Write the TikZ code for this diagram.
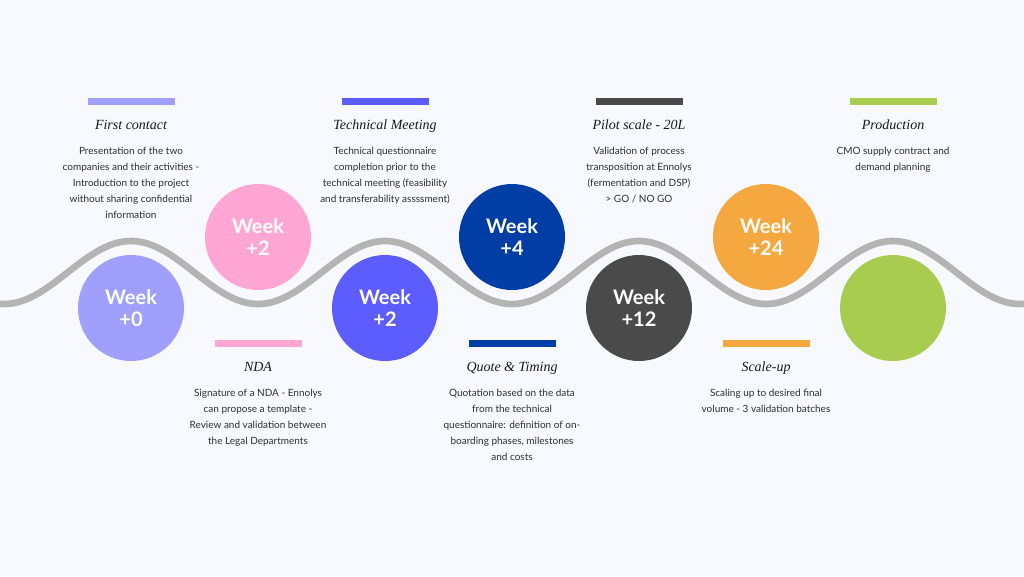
\documentclass[tikz,border=0pt]{standalone}
\usepackage{fontspec}
\setmainfont{Lato}
\newfontfamily\titlefont{Liberation Serif}
\usepackage{xcolor}
\usetikzlibrary{positioning}

\definecolor{bgcol}{HTML}{F8F9FE}
\definecolor{lavender}{HTML}{A0A0FC}
\definecolor{pinkc}{HTML}{FFA6D5}
\definecolor{violetc}{HTML}{5C5CFF}
\definecolor{navyc}{HTML}{003DA5}
\definecolor{darkc}{HTML}{4A4A4A}
\definecolor{orangec}{HTML}{F5A840}
\definecolor{greenc}{HTML}{A8CC4F}
\definecolor{wavec}{HTML}{B4B4B4}
\definecolor{textc}{HTML}{2E2E2E}

\begin{document}
\begin{tikzpicture}[x=0.75pt, y=-0.75pt,
  week/.style={circle, minimum size=79.5pt, inner sep=0pt, align=center, text=white, font=\fontsize{15}{17}\selectfont\bfseries},
  phasebar/.style={rectangle, minimum width=65.25pt, minimum height=5.25pt, inner sep=0pt},
  phasetitle/.style={font=\titlefont\itshape\fontsize{10.5}{12}\selectfont, text=black!90, inner sep=0pt, text height=8pt, text depth=2pt},
  phasetext/.style={font=\fontsize{7.5}{12}\selectfont, text=textc, align=center, inner sep=0pt}]

\useasboundingbox[fill=bgcol] (0,0) rectangle (1024,576);

% Timeline wave
\draw[wavec, line width=5pt] plot[domain=-5:1029, samples=300, smooth] (\x, {272.5-31.5*cos((\x-131)*1.417323)});

% Week circles
\node[week, fill=lavender] (week0) at (131,308) {Week\\+0};
\node[week, fill=pinkc] (week2a) at (258,237) {Week\\+2};
\node[week, fill=violetc] (week2b) at (385,308) {Week\\+2};
\node[week, fill=navyc] (week4) at (512,237) {Week\\+4};
\node[week, fill=darkc] (week12) at (639,308) {Week\\+12};
\node[week, fill=orangec] (week24) at (766,237) {Week\\+24};
\node[week, fill=greenc] (prod) at (893,308) {};

% Upper phases
\node[phasebar, fill=lavender] (bar1) at (131,101.5) {};
\node[phasetitle, below=10pt of bar1] (title1) {First contact};
\node[phasetext, below=10.5pt of title1] (text1) {Presentation of the two\\companies and their activities -\\Introduction to the project\\without sharing confidential\\information};

\node[phasebar, fill=violetc] (bar3) at (385,101.5) {};
\node[phasetitle, below=10pt of bar3] (title3) {Technical Meeting};
\node[phasetext, below=10.5pt of title3] (text3) {Technical questionnaire\\completion prior to the\\technical meeting (feasibility\\and transferability assssment)};

\node[phasebar, fill=darkc] (bar5) at (639,101.5) {};
\node[phasetitle, below=10pt of bar5] (title5) {Pilot scale - 20L};
\node[phasetext, below=10.5pt of title5] (text5) {Validation of process\\transposition at Ennolys\\(fermentation and DSP)\\> GO / NO GO};

\node[phasebar, fill=greenc] (bar7) at (893,101.5) {};
\node[phasetitle, below=10pt of bar7] (title7) {Production};
\node[phasetext, below=10.5pt of title7] (text7) {CMO supply contract and\\demand planning};

% Lower phases
\node[phasebar, fill=pinkc] (bar2) at (258,343.5) {};
\node[phasetitle, below=10pt of bar2] (title2) {NDA};
\node[phasetext, below=10.5pt of title2] (text2) {Signature of a NDA - Ennolys\\can propose a template -\\Review and validation between\\the Legal Departments};

\node[phasebar, fill=navyc] (bar4) at (512,343.5) {};
\node[phasetitle, below=10pt of bar4] (title4) {Quote \& Timing};
\node[phasetext, below=10.5pt of title4] (text4) {Quotation based on the data\\from the technical\\questionnaire: definition of on-\\boarding phases, milestones\\and costs};

\node[phasebar, fill=orangec] (bar6) at (766,343.5) {};
\node[phasetitle, below=10pt of bar6] (title6) {Scale-up};
\node[phasetext, below=10.5pt of title6] (text6) {Scaling up to desired final\\volume - 3 validation batches};
\end{tikzpicture}
\end{document}
